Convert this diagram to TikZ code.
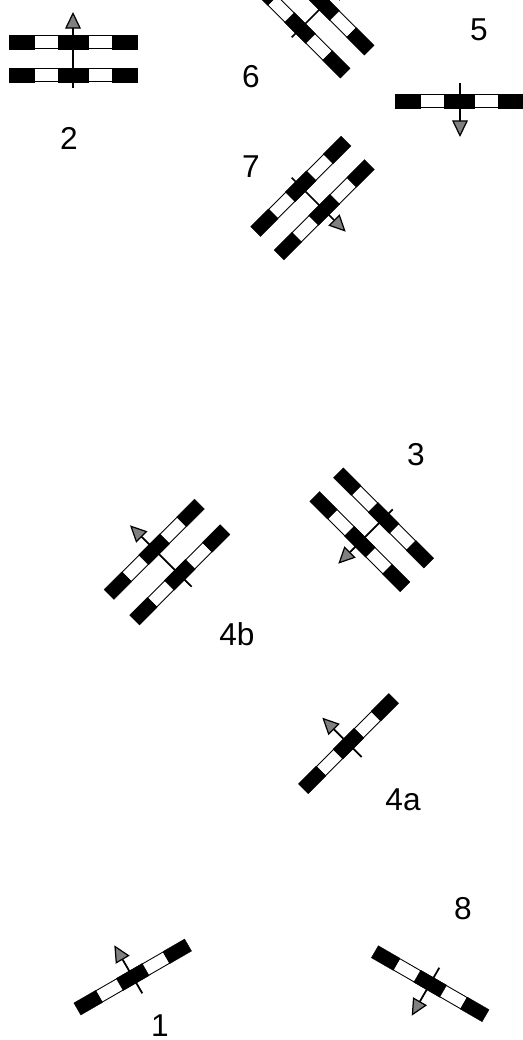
\documentclass[tikz,border=0pt]{standalone}
\usepackage{fontspec}
\setmainfont{Liberation Sans}
\usetikzlibrary{arrows.meta}

\tikzset{
  seg/.style = {draw=black, line width=0.5pt, fill=white},
  blk/.style = {draw=black, line width=0.1pt, fill=black},
  beam/.style = {line width=1pt, -{Triangle[length=9.5pt, width=9pt, fill=gray, line width=0.7pt]}},
  num/.style = {font=\fontsize{18}{20}\selectfont, inner sep=0pt},
  pics/grating/.style = {code={
    \draw[seg] (-39,-6.5) rectangle (39,6.5);
    \foreach \a/\b in {-64/-39,-15/15,39/64}
      \draw[blk] (\a,-7) rectangle (\b,7);
  }}
}

\begin{document}
\begin{tikzpicture}[x=0.02cm,y=-0.02cm]
\useasboundingbox (0,0) rectangle (523,1040);
\clip (0,0) rectangle (523,1040);

% Gratings
\foreach \x/\y/\r in {73/42/0,73/75/0,459.5/101/0,
    324/5/-45,300/28/-45,300.8/186.3/45,324.2/209.8/45,
    383.6/518/-45,359.9/541.7/-45,154.2/549.3/45,179.8/574.8/45,
    348.5/743.6/45,132.7/977/30,430.2/983.7/-30}
    \pic[rotate=\r] at (\x,\y) {grating};

% Beam ends
\coordinate (t2) at (73,88);       \coordinate (h2) at (73,12);
\coordinate (t5) at (460,83);      \coordinate (h5) at (460,137);
\coordinate (t6) at (291.7,37.3);  \coordinate (h6) at (345.7,-16.7);
\coordinate (t7) at (291.7,177.7); \coordinate (h7) at (345.7,231.7);
\coordinate (t3) at (392.7,509.3); \coordinate (h3) at (338.3,563.7);
\coordinate (t4b) at (191.7,586.7);\coordinate (h4b) at (130,525.3);
\coordinate (t4a) at (361.7,757);  \coordinate (h4a) at (322.3,717.7);
\coordinate (t1) at (142.3,993.3); \coordinate (h1) at (114.3,945.3);
\coordinate (t8) at (439.3,967.7); \coordinate (h8) at (411.7,1015.7);

\foreach \n in {2,5,6,7,3,4b,4a,1,8}
    \draw[beam] (t\n)--(h\n);

% Labels
\foreach \x/\y/\n in {69/138/2,479/30/5,251/77/6,251/167/7,416/455/3,
    237/634/4b,403/800/4a,160/1026/1,463/909/8}
    \node[num] (lab\n) at (\x,\y) {\n};
\end{tikzpicture}
\end{document}
